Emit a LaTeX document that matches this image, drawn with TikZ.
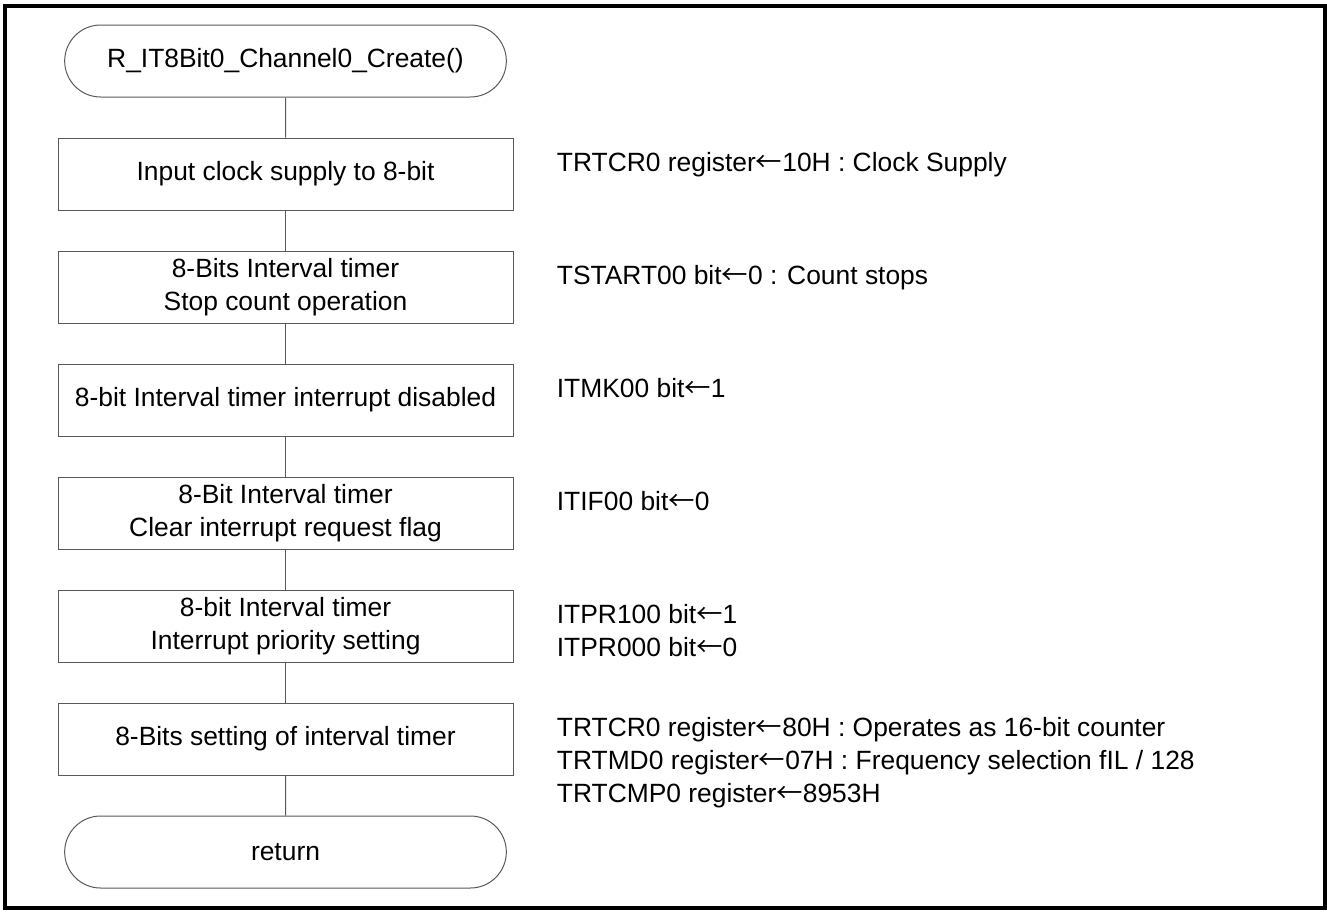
\documentclass[tikz,border=0pt]{standalone}
\usepackage{fontspec}
\setmainfont{Liberation Sans}
\newfontfamily\cjk{Noto Sans CJK JP}
\newcommand{\setto}{{\cjk ←}}
\usetikzlibrary{positioning, shapes.misc}
\tikzset{
  node distance=20pt,
  every node/.style={font=\fontsize{13.2}{16.5}\selectfont},
  process/.style={draw=black!65, line width=0.5pt, minimum width=227.5pt,
                  minimum height=36pt, align=center},
  terminal/.style={process, rounded rectangle},
  note/.style={inner sep=0pt, align=left},
}

\begin{document}
\begin{tikzpicture}
      \useasboundingbox (0pt,0pt) rectangle (663.5pt,-455.5pt);
      \draw[line width=1.6pt] (2.5pt,-3pt) rectangle (662.5pt,-454pt);

      \node[terminal] at (142.75pt,-30.5pt) (start) {R\_IT8Bit0\_Channel0\_Create()};
      \node[process,below=of start] (clk)  {Input clock supply to 8-bit};
      \node[process,below=of clk]   (stop) {8-Bits Interval timer\\Stop count operation};
      \node[process,below=of stop]  (mask) {8-bit Interval timer interrupt disabled};
      \node[process,below=of mask]  (flag) {8-Bit Interval timer\\Clear interrupt request flag};
      \node[process,below=of flag]  (prio) {8-bit Interval timer\\Interrupt priority setting};
      \node[process,below=of prio]  (mode) {8-Bits setting of interval timer};
      \node[terminal,below=of mode] (ret)  {return};

      \node[note,below right=7pt and 21.5pt of clk.north east]  (clknote)  {TRTCR0 register\setto10H : Clock Supply};
      \node[note,below right=7pt and 21.5pt of stop.north east] (stopnote) {TSTART00 bit\setto0 : Count stops};
      \node[note,below right=7pt and 21.5pt of mask.north east] (masknote) {ITMK00 bit\setto1};
      \node[note,below right=7pt and 21.5pt of flag.north east] (flagnote) {ITIF00 bit\setto0};
      \node[note,below right=7pt and 21.5pt of prio.north east] (prionote) {ITPR100 bit\setto1\\ITPR000 bit\setto0};
      \node[note,below right=7pt and 21.5pt of mode.north east] (modenote)
            {TRTCR0 register\setto80H : Operates as 16-bit counter\\
             TRTMD0 register\setto07H : Frequency selection fIL / 128\\
             TRTCMP0 register\setto8953H};

      \draw[draw=black!65, line width=0.5pt]
            (start) edge (clk)
            (clk)   edge (stop)
            (stop)  edge (mask)
            (mask)  edge (flag)
            (flag)  edge (prio)
            (prio)  edge (mode)
            (mode)  edge (ret);
\end{tikzpicture}
\end{document}
